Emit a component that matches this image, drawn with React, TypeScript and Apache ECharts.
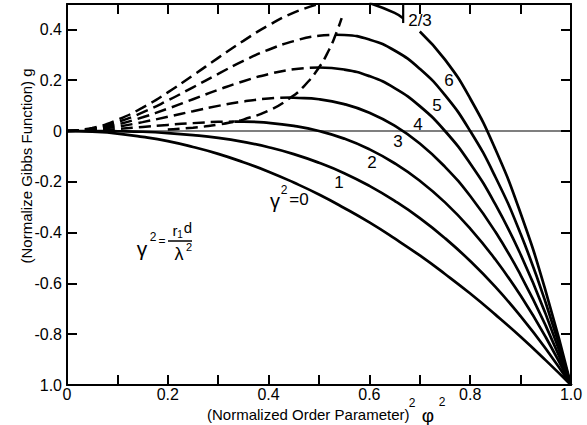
import React, { useEffect, useRef } from "react";
import * as echarts from "echarts";

// normalized order parameter squared (phi^2)
const U = [0, 0.05, 0.1, 0.15, 0.2, 0.25, 0.3, 0.35, 0.4, 0.45, 0.5, 0.55, 0.6, 0.65, 0.7, 0.75, 0.8, 0.85, 0.9, 0.95, 1.0];
// normalized Gibbs function g for gamma^2 = 0..6
const G_0 = [0, -0.003, -0.01, -0.023, -0.04, -0.063, -0.09, -0.123, -0.16, -0.203, -0.25, -0.303, -0.36, -0.423, -0.49, -0.563, -0.64, -0.723, -0.81, -0.903, -1.0];
const G_1 = [0, -0.0001, -0.001, -0.003, -0.008, -0.016, -0.027, -0.043, -0.064, -0.091, -0.125, -0.166, -0.216, -0.275, -0.343, -0.422, -0.512, -0.614, -0.729, -0.857, -1.0];
const G_2 = [0, 0.002, 0.008, 0.016, 0.024, 0.031, 0.036, 0.037, 0.032, 0.02, 0, -0.03, -0.072, -0.127, -0.196, -0.281, -0.384, -0.506, -0.648, -0.812, -1.0];
const G_3 = [0, 0.005, 0.017, 0.035, 0.056, 0.078, 0.099, 0.116, 0.128, 0.131, 0.125, 0.106, 0.072, 0.021, -0.049, -0.141, -0.256, -0.397, -0.567, -0.767, -1.0];
const G_4 = [0, 0.007, 0.026, 0.054, 0.088, 0.125, 0.162, 0.196, 0.224, 0.243, 0.25, 0.242, 0.216, 0.169, 0.098, 0, -0.128, -0.289, -0.486, -0.722, -1.0];
const G_5 = [0, 0.009, 0.035, 0.073, 0.12, 0.172, 0.225, 0.276, 0.32, 0.354, 0.375, 0.378, 0.36, 0.317, 0.245, 0.141, 0, -0.181, -0.405, -0.677, -1.0];
const G_6 = [0, 0.012, 0.044, 0.092, 0.152, 0.219, 0.288, 0.355, 0.416, 0.466, 0.5, 0.514, 0.504, 0.465, 0.392, 0.281, 0.128, -0.072, -0.324, -0.632, -1.0];

// maxima where the dashed (unstable) branch turns into the solid branch, gamma^2 = 2..5
const PEAK_U = [0.333, 0.444, 0.5, 0.533];
const PEAK_G = [0.037, 0.132, 0.25, 0.379];

// gamma^2 = 6: dashed up to top edge, solid pieces
const G6_DASH_END = 0.5;
const G6_SOLID_A = [0.6, 0.667];
const G6_SOLID_B_FROM = 0.7;
const TICK_U = 0.667;
const TICK_G = [0.5, 0.425];

// locus of maxima (dashed)
const LOCUS_U = [0.2, 0.25, 0.3, 0.333, 0.35, 0.4, 0.444, 0.47, 0.5, 0.52, 0.533, 0.545];
const LOCUS_G = [0.006, 0.013, 0.025, 0.037, 0.045, 0.08, 0.132, 0.176, 0.25, 0.32, 0.379, 0.444];

const X_TICKS_LABELLED = ["0", "0.2", "0.4", "0.6", "0.8", "1.0"];

const FONT = "'Liberation Sans', Arial, sans-serif";

function pts(us: number[], gs: number[]) {
  return us.map((u, i) => [u, gs[i]]);
}

export default function App() {
  const ref = useRef<HTMLDivElement>(null);
  useEffect(() => {
    const chart = echarts.init(ref.current!, null, { renderer: "svg" });

    const solid = { color: "#000", width: 2.7, type: "solid" as const };
    const dashed = { color: "#000", width: 2.5, type: [12, 6] as any };
    const mk = (data: number[][], ls: any) => ({
      type: "line",
      data,
      showSymbol: false,
      symbol: "none",
      smooth: true,
      lineStyle: ls,
      silent: true,
      z: 3,
    });

    const series: any[] = [];
    // zero line
    series.push({
      type: "line",
      data: [[0, 0], [1, 0]],
      showSymbol: false,
      symbol: "none",
      lineStyle: { color: "#000", width: 1.2 },
      silent: true,
      z: 2,
    });
    series.push(mk(pts(U, G_0), solid));
    series.push(mk(pts(U, G_1), solid));
    const branched = [G_2, G_3, G_4, G_5];
    branched.forEach((G, k) => {
      const pu = PEAK_U[k];
      const pg = PEAK_G[k];
      const dash: number[][] = [];
      const sol: number[][] = [];
      U.forEach((u, i) => {
        if (u < pu - 1e-9) dash.push([u, G[i]]);
      });
      dash.push([pu, pg]);
      sol.push([pu, pg]);
      U.forEach((u, i) => {
        if (u > pu + 1e-9) sol.push([u, G[i]]);
      });
      series.push(mk(dash, dashed));
      series.push(mk(sol, solid));
    });
    // gamma^2 = 6
    const d6: number[][] = [];
    const a6: number[][] = [];
    const b6: number[][] = [];
    U.forEach((u, i) => {
      if (u <= G6_DASH_END + 1e-9) d6.push([u, G_6[i]]);
      if (u >= G6_SOLID_A[0] - 1e-9 && u <= G6_SOLID_A[1]) a6.push([u, G_6[i]]);
      if (u >= G6_SOLID_B_FROM - 1e-9) b6.push([u, G_6[i]]);
    });
    a6.push([TICK_U, 0.444]);
    series.push(mk(d6, dashed));
    series.push(mk(a6, solid));
    series.push(mk(b6, solid));
    series.push({ ...mk([[TICK_U, TICK_G[0]], [TICK_U, TICK_G[1]]], { color: "#000", width: 2.2 }), smooth: false });
    series.push(mk(pts(LOCUS_U, LOCUS_G), dashed));

    const txt = (text: string, x: number, y: number, size: number, extra: any = {}) => ({
      type: "text",
      x,
      y,
      silent: true,
      z: 10,
      style: {
        text,
        fill: "#000",
        font: `${size}px ${FONT}`,
        align: "center",
        verticalAlign: "middle",
        ...extra,
      },
    });

    const axisBase = {
      type: "value",
      min: 0,
      max: 1,
      interval: 0.1,
      splitLine: { show: false },
      axisLine: { show: true, onZero: false, lineStyle: { color: "#000", width: 2 } },
      axisTick: { show: true, inside: true, length: 10, lineStyle: { color: "#000", width: 2 } },
    };
    const yBase = {
      type: "value",
      min: -1,
      max: 0.5,
      interval: 0.2,
      splitLine: { show: false },
      axisLine: { show: true, onZero: false, lineStyle: { color: "#000", width: 2 } },
      axisTick: { show: true, inside: true, length: 10, lineStyle: { color: "#000", width: 2 } },
    };

    const yTitle: any = txt("(Normalize Gibbs Function) g", 26, 166, 15, {});
    yTitle.rotation = Math.PI / 2;

    const option: any = {
      animation: false,
      backgroundColor: "#fff",
      grid: { left: 67, top: 4, width: 504, height: 381, containLabel: false, outerBoundsMode: "none" },
      xAxis: [
        {
          ...axisBase,
          position: "bottom",
          axisLabel: {
            color: "#000",
            fontSize: 16,
            fontFamily: FONT,
            margin: 1,
            formatter: (v: number) => {
              const k = Math.round(v * 10);
              return k % 2 === 0 ? X_TICKS_LABELLED[k / 2] : "";
            },
          },
        },
        { ...axisBase, position: "top", axisLabel: { show: false } },
      ],
      yAxis: [
        {
          ...yBase,
          position: "left",
          axisLabel: {
            color: "#000",
            fontSize: 16,
            fontFamily: FONT,
            margin: 5,
            formatter: (v: number) => {
              if (v > 0.45) return "";
              if (Math.abs(v) < 1e-9) return "0";
              if (Math.abs(v + 1) < 1e-9) return "1.0";
              return v.toFixed(1);
            },
          },
        },
        { ...yBase, position: "right", axisLabel: { show: false } },
      ],
      series,
      graphic: [
        yTitle,
        txt("(Normalized Order Parameter)", 207, 414, 15, { align: "left" }),
        txt("2", 412, 403, 12),
        txt("\u03c6", 428, 415, 19),
        txt("2", 442, 402, 12),
        txt("1", 339, 182, 17),
        txt("2", 372, 162, 17),
        txt("3", 398, 141, 17),
        txt("4", 418, 124, 17),
        txt("5", 437, 105, 17),
        txt("6", 449, 80, 17),
        txt("2/3", 420, 20, 17),
        txt("\u03b3", 275, 201, 20),
        txt("2", 284, 190, 12),
        txt("=0", 299, 199, 17),
        txt("\u03b3", 142, 248, 21),
        txt("2", 153, 237, 12),
        txt("=", 162, 241, 12),
        {
          type: "line",
          silent: true,
          shape: { x1: 168, y1: 241, x2: 192, y2: 241 },
          style: { stroke: "#000", lineWidth: 1.5 },
        },
        txt("r", 175, 230, 15),
        txt("1", 180, 234, 10),
        txt("d", 188, 227, 15),
        txt("\u03bb", 179, 254, 18),
        txt("2", 189, 247, 11),
      ],
    };

    chart.setOption(option);
    return () => chart.dispose();
  }, []);
  return (
    <div
      ref={ref}
      style={{ position: "fixed", left: 0, top: 0, width: 587, height: 425, background: "#fff" }}
    />
  );
}
